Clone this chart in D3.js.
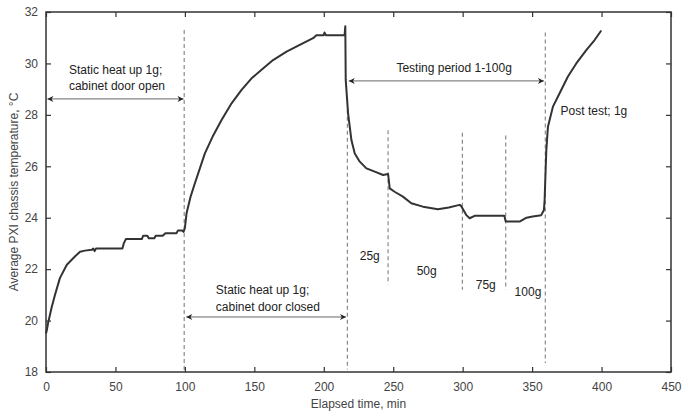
<!DOCTYPE html>
<html>
<head>
<meta charset="utf-8">
<script src="https://cdn.jsdelivr.net/npm/d3@7"></script>
<style>
  html, body { margin: 0; padding: 0; background: #fff; }
  svg { display: block; font-family: "Liberation Sans", Arial, sans-serif; }
</style>
</head>
<body>
<svg id="chart" width="692" height="414"></svg>
<script>
// ---- data ----
const timeMin = [0,0.5,1.5,4,6.5,10,15,21,24.5,28,33,34,35,36,55,56,57.5,69,70,73,74,78,79,84,86,94,95,98,99,
  100,101.2,104,107.2,114.4,120.4,126.4,133.6,140.8,148,155.2,163.5,173.2,182.7,192.3,194.7,200,200.5,201.5,215,
  215.5,215.8,217.5,219.9,222.3,225.9,230.7,236.7,242.7,246.3,247.5,251,257,263,271.4,282.2,290,297.8,299,302.7,305,309,
  330,331,341,346,350.4,356.6,358.5,359,360.2,361.4,365,369.8,375.8,381.8,389,395,399.8];
const tempC = [19.5,19.6,19.9,20.5,21.0,21.65,22.17,22.5,22.68,22.72,22.75,22.8,22.7,22.8,22.8,23.0,23.17,23.17,23.3,23.3,23.2,23.2,23.3,23.3,23.4,23.4,23.5,23.5,23.45,
  23.6,24.17,24.8,25.34,26.5,27.2,27.8,28.45,28.97,29.42,29.75,30.13,30.46,30.72,30.98,31.1,31.1,31.2,31.1,31.1,
  31.45,29.36,28.06,27.02,26.5,26.18,25.92,25.79,25.66,25.7,25.14,25.01,24.82,24.56,24.43,24.33,24.4,24.5,24.45,24.1,23.98,24.08,
  24.08,23.85,23.85,24.0,24.05,24.1,24.3,24.69,26.6,27.54,28.32,28.84,29.49,30.0,30.52,30.91,31.28];

const xTicks = [0,50,100,150,200,250,300,350,400,450];
const yTicks = [18,20,22,24,26,28,30,32];

// phase boundary lines: time, top temp, bottom temp
const phaseTime = [99.5, 217, 246.3, 299.8, 331, 359.5];
const phaseTop  = [31.3, 28.2, 27.4, 27.3, 27.2, 31.2];
const phaseBot  = [18, 18.1, 21.4, 21.2, 21.2, 18.35];

// double-headed arrows: from time, to time, at temp
const arrowFrom = [1, 101, 218];
const arrowTo   = [99, 216, 358.5];
const arrowTemp = [28.62, 20.14, 29.32];

// annotation texts: time (left), temp (middle), text
const noteText = ["Static heat up 1g;", "cabinet door open", "Static heat up 1g;", "cabinet door closed",
  "Testing period 1-100g", "Post test; 1g", "25g", "50g", "75g", "100g"];
const noteTime = [16.5, 16.5, 122.3, 122.3, 252.3, 370.5, 225.9, 266.9, 309.4, 337.4];
const noteTemp = [29.75, 29.12, 21.19, 20.54, 29.82, 28.15, 22.51, 21.93, 21.38, 21.11];

// ---- layout ----
const svg = d3.select("#chart");
const L = 46, R = 671, T = 12, B = 372;
const x = d3.scaleLinear().domain([0, 450]).range([L, R]);
const y = d3.scaleLinear().domain([18, 32]).range([B, T]);

// defs: arrowheads
const defs = svg.append("defs");
["end","start"].forEach(k => {
  defs.append("marker")
    .attr("id", "ah-" + k)
    .attr("viewBox", "0 0 10 10")
    .attr("refX", 10).attr("refY", 5)
    .attr("markerWidth", 8).attr("markerHeight", 6)
    .attr("markerUnits", "userSpaceOnUse")
    .attr("orient", k === "end" ? "auto" : "auto-start-reverse")
    .append("path").attr("d", "M0,0 L10,5 L0,10 L3,5 Z").attr("fill", "#222");
});

// phase dashed lines
svg.append("g").selectAll("line").data(phaseTime).join("line")
  .attr("x1", d => x(d)).attr("x2", d => x(d))
  .attr("y1", (d,i) => y(phaseTop[i])).attr("y2", (d,i) => y(phaseBot[i]))
  .attr("stroke", "#8a8a8a").attr("stroke-width", 1.2).attr("stroke-dasharray", "4,3");

// data line
const pts = timeMin.map((t,i) => [t, tempC[i]]);
svg.append("path").datum(pts)
  .attr("fill", "none").attr("stroke", "#333").attr("stroke-width", 2)
  .attr("stroke-linejoin", "round")
  .attr("d", d3.line().x(d => x(d[0])).y(d => y(d[1])));

// arrows
svg.append("g").selectAll("line").data(arrowFrom).join("line")
  .attr("x1", d => x(d)).attr("x2", (d,i) => x(arrowTo[i]))
  .attr("y1", (d,i) => y(arrowTemp[i])).attr("y2", (d,i) => y(arrowTemp[i]))
  .attr("stroke", "#555").attr("stroke-width", 0.9)
  .attr("marker-start", "url(#ah-start)").attr("marker-end", "url(#ah-end)");

// notes
svg.append("g").selectAll("text").data(noteText).join("text")
  .attr("x", (d,i) => x(noteTime[i])).attr("y", (d,i) => y(noteTemp[i]))
  .attr("dy", "0.35em")
  .attr("font-size", 12).attr("fill", "#222")
  .text(d => d);

// axes
function styleAxis(g) {
  g.selectAll(".domain").remove();
  g.selectAll(".tick line").attr("stroke", "#333").attr("stroke-width", 1.2);
  g.selectAll(".tick text").attr("fill", "#444").attr("font-size", 12)
    .attr("font-family", "'Liberation Sans', Arial, sans-serif");
}
svg.append("g").attr("transform", `translate(0,${B})`)
  .call(d3.axisBottom(x).tickValues(xTicks).tickSizeInner(-5).tickSizeOuter(0).tickPadding(10))
  .call(styleAxis);
svg.append("g").attr("transform", `translate(0,${T})`)
  .call(d3.axisTop(x).tickValues(xTicks).tickSizeInner(-5).tickSizeOuter(0).tickFormat(""))
  .call(styleAxis);
svg.append("g").attr("transform", `translate(${L},0)`)
  .call(d3.axisLeft(y).tickValues(yTicks).tickSizeInner(-5).tickSizeOuter(0).tickPadding(8))
  .call(styleAxis);
svg.append("g").attr("transform", `translate(${R},0)`)
  .call(d3.axisRight(y).tickValues(yTicks).tickSizeInner(-5).tickSizeOuter(0).tickFormat(""))
  .call(styleAxis);

// frame
svg.append("rect").attr("x", L).attr("y", T).attr("width", R - L).attr("height", B - T)
  .attr("fill", "none").attr("stroke", "#333").attr("stroke-width", 1.5);

// axis titles
svg.append("text").attr("x", (L + R) / 2).attr("y", 408)
  .attr("text-anchor", "middle").attr("font-size", 12).attr("fill", "#444")
  .text("Elapsed time, min");
svg.append("text")
  .attr("transform", `translate(18,${(T + B) / 2}) rotate(-90)`)
  .attr("text-anchor", "middle").attr("font-size", 12).attr("fill", "#444")
  .text("Average PXI chassis temperature, °C");
</script>
</body>
</html>
